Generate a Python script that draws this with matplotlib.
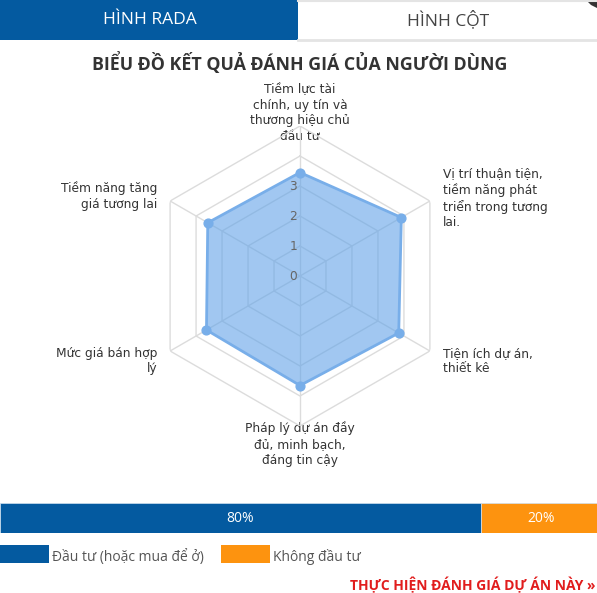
import numpy as np
import matplotlib
matplotlib.use("Agg")
import matplotlib.pyplot as plt
from matplotlib.patches import Rectangle, Polygon

# du lieu
categories = [
    "Tiềm lực tài\nchính, uy tín và\nthương hiệu chủ\nđầu tư",
    "Vị trí thuận tiện,\ntiềm năng phát\ntriển trong tương\nlai.",
    "Tiện ích dự án,\nthiết kê",
    "Pháp lý dự án đầy\nđủ, minh bạch,\nđáng tin cậy",
    "Mức giá bán hợp\nlý",
    "Tiềm năng tăng\ngiá tương lai",
]
scores = [3.45, 3.9, 3.8, 3.65, 3.6, 3.55]
ring_levels = [1, 2, 3, 4, 5]
tick_values = [0, 1, 2, 3]

share_labels = ["Đầu tư (hoặc mua để ở)", "Không đầu tư"]
share_values = [80, 20]

tabs = ["HÌNH RADA", "HÌNH CỘT"]
title = "BIỂU ĐỒ KẾT QUẢ ĐÁNH GIÁ CỦA NGƯỜI DÙNG"
cta = "THỰC HIỆN ĐÁNH GIÁ DỰ ÁN NÀY »"

BLUE = "#045aa0"
ORANGE = "#fd930f"
W, H = 597, 593

fig = plt.figure(figsize=(W / 100, H / 100), dpi=100)
fig.patch.set_facecolor("white")

# nen (toa do pixel)
bg = fig.add_axes([0, 0, 1, 1])
bg.set_xlim(0, W)
bg.set_ylim(H, 0)
bg.axis("off")

# tabs
bg.add_patch(Rectangle((0, 0), 298, 40, color=BLUE, lw=0))
bg.plot([298, W], [1, 1], color="#e4e4e4", lw=1.5)
bg.plot([298, W], [40, 40], color="#e4e4e4", lw=2)
bg.add_patch(Polygon([[586, 0], [597, 0], [597, 8], [591, 5]], color="#333333", lw=0))
bg.text(150, 20, tabs[0], color="white", fontsize=12.5, family="Open Sans",
        ha="center", va="center")
bg.text(448, 20, tabs[1], color="#444444", fontsize=12.5, family="Open Sans",
        ha="center", va="center")

bg.text(300, 63, title, color="#333333", fontsize=12.8, family="Open Sans",
        weight="bold", ha="center", va="center")

# radar
cx, cy, R = 300, 276, 150
ax = fig.add_axes([(cx - R) / W, (H - cy - R) / H, 2 * R / W, 2 * R / H],
                  projection="polar")
ax.set_theta_offset(np.pi / 2)
ax.set_theta_direction(-1)
ax.set_ylim(0, 5)
ax.set_axis_off()

angles = np.linspace(0, 2 * np.pi, len(categories), endpoint=False)
ang_c = np.append(angles, angles[0])

for r in ring_levels:
    ax.plot(ang_c, [r] * len(ang_c), color="#dcdcdc", lw=1, zorder=1)
for a in angles:
    ax.plot([a, a], [0, 5], color="#dcdcdc", lw=1, zorder=1)

ax.fill(angles, scores, color="#62a3e8", alpha=0.6, lw=0, zorder=2)
ax.plot(ang_c, np.append(scores, scores[0]), color="#78aee9", lw=2, zorder=3)
ax.scatter(angles, scores, s=40, color="#78aee9", zorder=4)

for t in tick_values:
    ax.annotate(str(t), (0, t), xytext=(-2, 0), textcoords="offset points",
                ha="right", va="center", fontsize=8.8, color="#666666", zorder=5)

# nhan truc
label_pos = [
    (300, 113, "center"),
    (443, 198, "left"),
    (443, 361, "left"),
    (300, 444, "center"),
    (157, 361, "right"),
    (157, 196, "right"),
]
for txt, (x, y, ha) in zip(categories, label_pos):
    bg.text(x, y, txt, fontsize=8.8, color="#333333", ha=ha, va="center",
            multialignment=ha, linespacing=1.28, family="DejaVu Sans")

# thanh ti le
bx = fig.add_axes([0, (H - 533) / H, 601 / W, 30 / H])
bx.set_xlim(0, sum(share_values))
bx.set_ylim(0, 1)
bx.axis("off")
left = 0
for v, c in zip(share_values, [BLUE, ORANGE]):
    bx.barh(0.5, v, left=left, height=1, color=c, edgecolor="#cfe0f0", lw=0.5)
    bx.text(left + v / 2, 0.5, f"{v}%", color="white", fontsize=10,
            family="Open Sans", ha="center", va="center")
    left += v

# chu giai
for (x0, lab, c) in [(0, share_labels[0], BLUE), (221, share_labels[1], ORANGE)]:
    bg.add_patch(Rectangle((x0, 545), 49, 18, color=c, lw=0))
    bg.text(x0 + 52, 557, lab, fontsize=10, color="#555555", family="Open Sans",
            ha="left", va="center")

bg.text(596, 585, cta, fontsize=10, color="#e11d1d", family="Open Sans",
        weight="bold", ha="right", va="center")

fig.savefig("out.png", dpi=100)
